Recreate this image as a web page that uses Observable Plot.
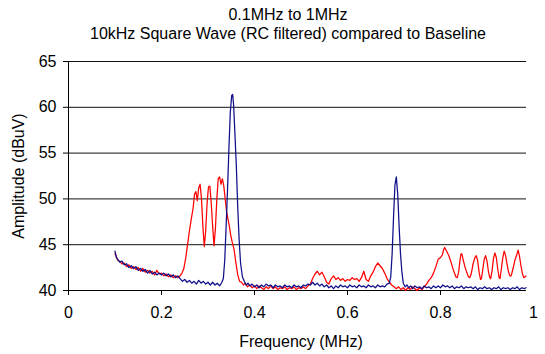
<!DOCTYPE html>
<html><head><meta charset="utf-8">
<script src="https://cdn.jsdelivr.net/npm/d3@7"></script>
<script src="https://cdn.jsdelivr.net/npm/@observablehq/plot@0.6"></script>
<style>
body{margin:0;background:#fff;font-family:"Liberation Sans",Arial,sans-serif;}
#title{width:545px;height:45px;position:relative;}
#title div{position:absolute;left:0;width:576px;text-align:center;font-size:16px;line-height:18px;color:#000;}
#chart svg{display:block;}
</style></head><body>
<div id="title"><div style="top:6px">0.1MHz to 1MHz</div><div style="top:25px">10kHz Square Wave (RC filtered) compared to Baseline</div></div>
<div id="chart"></div>
<script>
const freqBaseline = [0.100,0.103,0.106,0.110,0.115,0.120,0.125,0.130,0.135,0.140,0.145,0.150,0.155,0.160,0.165,0.170,0.175,0.180,0.185,0.190,0.195,0.200,0.205,0.210,0.215,0.220,0.225,0.230,0.235,0.240,0.245,0.250,0.255,0.260,0.265,0.270,0.275,0.280,0.285,0.290,0.295,0.300,0.305,0.310,0.315,0.320,0.325,0.330,0.333,0.336,0.339,0.342,0.345,0.348,0.351,0.353,0.355,0.358,0.361,0.364,0.367,0.370,0.374,0.378,0.382,0.386,0.390,0.395,0.400,0.405,0.410,0.415,0.420,0.425,0.430,0.435,0.440,0.445,0.450,0.455,0.460,0.465,0.470,0.475,0.480,0.485,0.490,0.495,0.500,0.505,0.510,0.515,0.520,0.525,0.530,0.535,0.540,0.545,0.550,0.555,0.560,0.565,0.570,0.575,0.580,0.585,0.590,0.595,0.600,0.605,0.610,0.615,0.620,0.625,0.630,0.635,0.640,0.645,0.650,0.655,0.660,0.665,0.670,0.675,0.680,0.685,0.690,0.693,0.696,0.699,0.702,0.705,0.708,0.711,0.714,0.717,0.720,0.724,0.728,0.732,0.736,0.740,0.745,0.750,0.755,0.760,0.765,0.770,0.775,0.780,0.785,0.790,0.795,0.800,0.805,0.810,0.815,0.820,0.825,0.830,0.835,0.840,0.845,0.850,0.855,0.860,0.865,0.870,0.875,0.880,0.885,0.890,0.895,0.900,0.905,0.910,0.915,0.920,0.925,0.930,0.935,0.940,0.945,0.950,0.955,0.960,0.965,0.970,0.975,0.980,0.984];
const ampBaseline = [44.3,43.6,43.4,43.1,43.2,42.8,42.9,42.5,42.7,42.4,42.6,42.2,42.4,42.1,42.3,41.9,42.2,41.8,42.0,41.7,41.9,41.7,41.9,41.6,41.8,41.5,41.7,41.4,41.6,41.3,41.0,41.2,40.9,41.1,40.8,41.0,40.7,41.1,40.8,41.0,40.7,40.9,40.6,40.9,40.6,40.8,40.5,40.9,41.3,43.3,47.0,51.0,55.5,59.5,61.3,61.4,60.3,57.0,53.5,49.0,45.5,43.0,41.5,41.0,40.6,40.8,40.5,40.7,40.4,40.6,40.3,40.6,40.4,40.7,40.5,40.6,40.3,40.6,40.4,40.5,40.3,40.6,40.4,40.5,40.3,40.6,40.4,40.5,40.3,40.6,40.5,40.7,40.6,40.9,40.6,40.8,40.5,40.7,40.4,40.6,40.3,40.5,40.2,40.5,40.3,40.6,40.4,40.5,40.3,40.6,40.4,40.5,40.3,40.6,40.4,40.5,40.3,40.6,40.4,40.5,40.3,40.6,40.4,40.5,40.4,40.7,40.8,41.5,44.0,48.0,51.5,52.4,50.5,47.0,44.0,42.0,40.8,40.4,40.6,40.3,40.5,40.2,40.5,40.3,40.4,40.2,40.5,40.3,40.4,40.2,40.5,40.3,40.5,40.3,40.6,40.4,40.5,40.3,40.5,40.2,40.4,40.3,40.5,40.2,40.4,40.3,40.4,40.2,40.4,40.1,40.3,40.2,40.4,40.2,40.3,40.1,40.3,40.2,40.4,40.1,40.3,40.2,40.3,40.1,40.3,40.2,40.4,40.1,40.3,40.2,40.3];

const freqFiltered = [0.100,0.103,0.106,0.110,0.115,0.120,0.125,0.130,0.135,0.140,0.145,0.150,0.155,0.160,0.165,0.170,0.175,0.180,0.185,0.190,0.195,0.200,0.205,0.210,0.215,0.220,0.225,0.230,0.235,0.240,0.244,0.248,0.252,0.256,0.260,0.264,0.268,0.271,0.274,0.277,0.280,0.283,0.286,0.289,0.292,0.295,0.298,0.301,0.304,0.307,0.310,0.313,0.316,0.319,0.322,0.325,0.328,0.331,0.334,0.337,0.340,0.343,0.346,0.349,0.352,0.356,0.360,0.364,0.368,0.372,0.376,0.380,0.385,0.390,0.395,0.400,0.405,0.410,0.415,0.420,0.425,0.430,0.435,0.440,0.445,0.450,0.455,0.460,0.465,0.470,0.475,0.480,0.485,0.490,0.495,0.500,0.505,0.510,0.515,0.520,0.525,0.530,0.535,0.540,0.545,0.550,0.555,0.560,0.565,0.570,0.575,0.580,0.585,0.590,0.595,0.600,0.605,0.610,0.615,0.620,0.625,0.630,0.635,0.640,0.645,0.650,0.655,0.660,0.665,0.670,0.675,0.680,0.685,0.690,0.695,0.700,0.705,0.710,0.715,0.720,0.725,0.730,0.735,0.740,0.745,0.750,0.755,0.760,0.765,0.770,0.775,0.780,0.785,0.790,0.795,0.800,0.804,0.807,0.809,0.811,0.814,0.818,0.822,0.826,0.830,0.833,0.836,0.839,0.842,0.844,0.846,0.849,0.853,0.857,0.860,0.863,0.866,0.870,0.874,0.877,0.880,0.883,0.886,0.888,0.891,0.894,0.897,0.900,0.903,0.906,0.908,0.911,0.914,0.917,0.920,0.923,0.926,0.928,0.931,0.934,0.937,0.940,0.943,0.946,0.949,0.952,0.956,0.960,0.964,0.967,0.970,0.973,0.976,0.979,0.982,0.984];
const ampFiltered = [44.0,43.7,43.3,43.2,42.9,43.0,42.6,42.8,42.4,42.6,42.3,42.5,42.1,42.4,42.0,42.2,41.9,42.1,41.7,42.2,41.8,41.9,41.6,41.8,41.5,41.7,41.4,41.6,41.4,41.6,41.9,42.4,43.5,45.0,46.5,47.8,49.0,50.5,50.8,49.8,51.2,51.6,50.0,47.0,44.8,46.5,49.5,51.3,51.4,49.5,47.0,44.9,46.8,50.0,52.2,52.4,51.6,52.2,51.4,50.0,48.6,47.8,47.0,46.0,45.3,44.5,43.0,41.7,41.0,40.9,40.6,40.8,40.4,40.6,40.3,40.5,40.2,40.5,40.3,40.1,40.4,40.2,40.5,40.2,40.4,40.1,40.3,40.2,40.4,40.1,40.3,40.2,40.4,40.1,40.3,40.2,40.4,40.2,40.5,40.7,41.3,41.8,42.1,41.7,42.0,41.5,40.9,40.7,41.3,41.6,41.2,41.4,41.1,41.3,41.0,41.2,41.1,41.4,41.2,41.3,41.0,41.4,42.1,41.2,41.0,41.6,42.0,42.6,43.0,42.7,42.4,41.9,41.3,40.9,40.6,40.4,40.2,40.4,40.1,40.3,40.0,40.3,40.1,40.4,40.2,40.0,40.3,40.1,40.4,40.7,41.1,41.4,41.9,42.6,43.4,43.6,43.9,44.5,44.7,44.5,44.2,43.8,43.2,42.5,41.9,41.5,41.4,42.0,43.3,44.0,44.0,43.3,42.5,41.9,41.5,41.4,41.8,42.9,43.6,43.8,43.2,42.0,41.2,41.3,42.3,43.4,43.8,43.2,42.1,41.4,41.3,42.2,43.5,44.1,43.6,42.4,41.4,41.3,42.4,43.6,44.3,43.8,42.9,42.1,41.6,41.6,42.4,43.3,43.9,44.4,43.7,42.7,41.9,41.4,41.5,41.6];

const xTickValues = [0, 0.2, 0.4, 0.6, 0.8];
const xLastTick = [1];
const yTickValues = [40, 45, 50, 55, 60, 65];
const gridLevels = [45, 50, 55, 60, 65];
const axisFloor = [40];
const xEnd = 0.985;

const baseline = freqBaseline.map((f, i) => ({f, a: ampBaseline[i]}));
const filtered = freqFiltered.map((f, i) => ({f, a: ampFiltered[i]}));
const fmt = d => String(d);

const chart = Plot.plot({
  width: 545, height: 309,
  marginLeft: 68, marginRight: 12, marginTop: 16, marginBottom: 64,
  style: {fontFamily: '"Liberation Sans", Arial, sans-serif', fontSize: "16px", color: "#000", background: "#fff"},
  x: {domain: [0, 1]},
  y: {domain: [40, 65]},
  marks: [
    Plot.ruleY(gridLevels, {x1: 0, x2: xEnd, stroke: "#111", strokeWidth: 1}),
    Plot.ruleY(axisFloor, {x1: 0, x2: xEnd, stroke: "#000", strokeWidth: 1}),
    Plot.ruleX([0], {y1: 40, y2: 65, stroke: "#000", strokeWidth: 1}),
    Plot.axisY({ticks: yTickValues, tickSize: 5, tickPadding: 7, tickFormat: fmt, label: "Amplitude (dBuV)", labelAnchor: "center", labelArrow: "none", labelOffset: 56, fontSize: 16}),
    Plot.axisX({ticks: xTickValues, tickSize: 5, tickPadding: 11, tickFormat: fmt, label: "Frequency (MHz)", labelAnchor: "center", labelArrow: "none", labelOffset: 56, fontSize: 16}),
    Plot.axisX({ticks: xLastTick, tickSize: 0, tickPadding: 16, tickFormat: fmt, label: null, fontSize: 16}),
    Plot.line(filtered, {x: "f", y: "a", stroke: "#ff0000", strokeWidth: 1.25}),
    Plot.line(baseline, {x: "f", y: "a", stroke: "#10108a", strokeWidth: 1.25})
  ]
});
document.getElementById("chart").appendChild(chart);
</script>
</body></html>
